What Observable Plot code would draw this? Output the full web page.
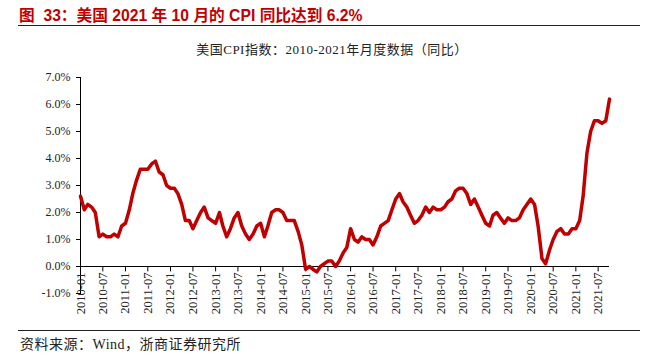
<!DOCTYPE html>
<html><head><meta charset="utf-8">
<script src="https://cdn.jsdelivr.net/npm/d3@7"></script>
<script src="https://cdn.jsdelivr.net/npm/@observablehq/plot@0.6"></script>
<style>
body{margin:0;background:#fff;}
#wrap{position:relative;width:652px;height:355px;overflow:hidden;background:#fff;}
#title{position:absolute;left:19px;top:3px;font:bold 15.7px "Liberation Sans","Noto Sans CJK SC",sans-serif;color:#c00000;white-space:nowrap;}
#rule1{position:absolute;left:18px;top:25px;width:622px;height:0;border-top:1.5px solid #222;}
#subtitle{position:absolute;left:0;width:664px;top:39px;text-align:center;font:13px "Liberation Serif","Noto Sans CJK SC",serif;letter-spacing:0.5px;color:#222;white-space:nowrap;}
#chart{position:absolute;left:0;top:60px;}
#rule2{position:absolute;left:18px;top:330px;width:622px;height:0;border-top:1px solid #222;}
#caption{position:absolute;left:20px;top:333px;font:14px "Liberation Serif","Noto Sans CJK SC",serif;letter-spacing:0.5px;color:#222;white-space:nowrap;}
svg{overflow:visible;}
</style>
</head><body>
<div id="wrap">
  <div id="title">图&nbsp;&nbsp;33：美国 2021 年 10 月的 CPI 同比达到 6.2%</div>
  <div id="rule1"></div>
  <div id="subtitle">美国CPI指数：2010-2021年月度数据（同比）</div>
  <div id="chart"></div>
  <div id="rule2"></div>
  <div id="caption">资料来源：Wind，浙商证券研究所</div>
</div>
<script>
const startYear = 2010;
const cpiYoY = [
  2.6, 2.1, 2.3, 2.2, 2.0, 1.1, 1.2, 1.1, 1.1, 1.2, 1.1, 1.5,
  1.6, 2.1, 2.7, 3.2, 3.6, 3.6, 3.6, 3.8, 3.9, 3.5, 3.4, 3.0,
  2.9, 2.9, 2.7, 2.3, 1.7, 1.7, 1.4, 1.7, 2.0, 2.2, 1.8, 1.7,
  1.6, 2.0, 1.5, 1.1, 1.4, 1.8, 2.0, 1.5, 1.2, 1.0, 1.2, 1.5,
  1.6, 1.1, 1.5, 2.0, 2.1, 2.1, 2.0, 1.7, 1.7, 1.7, 1.3, 0.8,
  -0.1, 0.0, -0.1, -0.2, 0.0, 0.1, 0.2, 0.2, 0.0, 0.2, 0.5, 0.7,
  1.4, 1.0, 0.9, 1.1, 1.0, 1.0, 0.8, 1.1, 1.5, 1.6, 1.7, 2.1,
  2.5, 2.7, 2.4, 2.2, 1.9, 1.6, 1.7, 1.9, 2.2, 2.0, 2.2, 2.1,
  2.1, 2.2, 2.4, 2.5, 2.8, 2.9, 2.9, 2.7, 2.3, 2.5, 2.2, 1.9,
  1.6, 1.5, 1.9, 2.0, 1.8, 1.6, 1.8, 1.7, 1.7, 1.8, 2.1, 2.3,
  2.5, 2.3, 1.5, 0.3, 0.1, 0.6, 1.0, 1.3, 1.4, 1.2, 1.2, 1.4,
  1.4, 1.7, 2.6, 4.2, 5.0, 5.4, 5.4, 5.3, 5.4, 6.2
];
const xTickLabels = [
  "2010-01","2010-07","2011-01","2011-07","2012-01","2012-07",
  "2013-01","2013-07","2014-01","2014-07","2015-01","2015-07",
  "2016-01","2016-07","2017-01","2017-07","2018-01","2018-07",
  "2019-01","2019-07","2020-01","2020-07","2021-01","2021-07"
];
const yTicks = [-1, 0, 1, 2, 3, 4, 5, 6, 7];

const parseYM = s => { const [y, m] = s.split("-").map(Number); return new Date(Date.UTC(y, m - 1, 1)); };
const data = cpiYoY.map((v, i) => ({date: new Date(Date.UTC(startYear, i, 1)), value: v}));
const xTicks = xTickLabels.map(s => ({date: parseYM(s), label: s}));

const chart = Plot.plot({
  width: 652,
  height: 265,
  marginLeft: 80,
  marginRight: 43,
  marginTop: 17,
  marginBottom: 32,
  style: {fontFamily: "'Liberation Serif', 'Times New Roman', serif", fontSize: "12px", color: "#222", background: "transparent"},
  x: {type: "utc", domain: [data[0].date, data[data.length - 1].date], axis: null},
  y: {type: "linear", domain: [-1, 7], axis: null},
  marks: [
    Plot.axisY(yTicks, {tickFormat: d => d.toFixed(1) + "%", tickSize: 4, tickPadding: 6, label: null, fontSize: 12, stroke: "#000"}),
    Plot.frame({anchor: "left", stroke: "#000"}),
    Plot.ruleY([0], {stroke: "#000", strokeWidth: 1}),
    Plot.ruleX(xTicks, {x: "date", y1: 0, y2: -0.2, stroke: "#000"}),
    Plot.text(xTicks, {x: "date", y: 0, text: "label", rotate: -90, textAnchor: "end", lineAnchor: "middle", dy: 6, fontSize: 12.5, fill: "#222"}),
    Plot.line(data, {x: "date", y: "value", stroke: "#c00000", strokeWidth: 3.5, strokeLinejoin: "round"})
  ]
});
document.getElementById("chart").appendChild(chart);
</script>
</body></html>
